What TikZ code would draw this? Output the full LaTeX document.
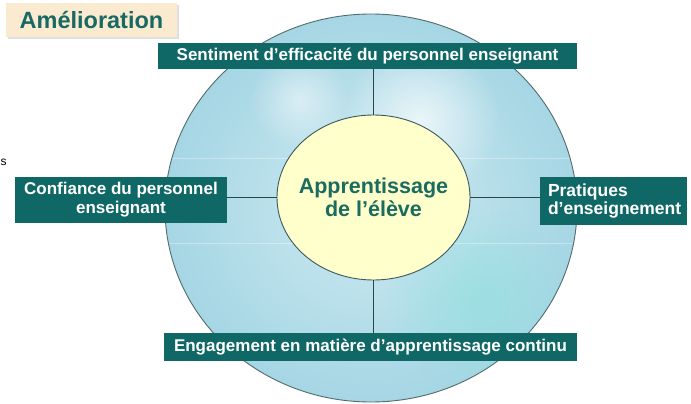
\documentclass[tikz,border=0pt]{standalone}
\usepackage{fontspec}
\setmainfont{Liberation Sans}
\usetikzlibrary{shadows,shapes.geometric,fadings}
\tikzfading[name=radfade, inner color=transparent!0, outer color=transparent!100]
\definecolor{boxteal}{RGB}{16,104,102}
\definecolor{titleteal}{RGB}{24,104,100}
\definecolor{titlebg}{RGB}{250,234,208}
\definecolor{discblue}{RGB}{166,214,228}
\definecolor{disclight}{RGB}{205,234,242}
\definecolor{disccyan}{RGB}{150,224,224}
\definecolor{innerfill}{RGB}{255,255,204}
\definecolor{linecol}{RGB}{40,70,72}
\definecolor{centertext}{RGB}{26,108,96}
\tikzset{
  tealbox/.style={fill=boxteal, text=white, font=\bfseries\fontsize{17}{19}\selectfont, inner sep=1pt},
  connector/.style={draw=linecol, line width=1pt},
}
\begin{document}
\begin{tikzpicture}[x=1pt,y=-1pt]
\useasboundingbox (0,0) rectangle (691,404);
% big disc
\shade[inner color=disclight, outer color=discblue] (371,208) ellipse [x radius=206, y radius=194];
\begin{scope}
\clip (371,208) ellipse [x radius=206, y radius=194];
\fill[disccyan, opacity=0.8, path fading=radfade] (480,300) circle (95);
\fill[white, opacity=0.7, path fading=radfade] (420,120) circle (80);
\fill[white, opacity=0.5, path fading=radfade] (300,100) circle (50);
\draw[white, opacity=0.35, line width=1pt] (160,158) -- (590,158);
\draw[white, opacity=0.35, line width=1pt] (160,243) -- (590,243);
\end{scope}
\draw[draw=linecol!80, line width=0.9pt] (371,208) ellipse [x radius=206, y radius=194];
% inner ellipse and its label
\node[ellipse, draw=linecol!90, line width=0.9pt, fill=innerfill, minimum width=193pt, minimum height=165pt, inner sep=0pt] (inner) at (373.5,197.5) {};
\node[text=centertext, font=\bfseries\fontsize{21.5}{23}\selectfont, align=center, inner sep=0pt] (label) at (373.5,197) {Apprentissage\\de l’élève};
% boxes
\node[tealbox, minimum width=419pt, minimum height=26pt] (top) at (367.5,56) {Sentiment d’efficacité du personnel enseignant};
\node[tealbox, minimum width=212pt, minimum height=46pt, align=center] (left) at (121,200) {Confiance du personnel\\enseignant};
\node[tealbox, minimum width=147pt, minimum height=48pt, align=left, inner xsep=8pt, text width=131pt, font=\bfseries\fontsize{17.5}{18.5}\selectfont] (right) at (613.5,201) {Pratiques\\d’enseignement};
\node[tealbox, minimum width=413pt, minimum height=28pt] (bottom) at (370.5,347) {Engagement en matière d’apprentissage continu};
% connectors
\draw[connector] (inner.north |- top.south) -- (inner.north);
\draw[connector] (inner.south) -- (inner.south |- bottom.north);
\draw[connector] (inner.west -| left.east) -- (inner.west);
\draw[connector] (inner.east) -- (inner.east -| right.west);
% title
\node[fill=titlebg, text=titleteal, font=\bfseries\fontsize{23.5}{26}\selectfont, minimum width=171pt, minimum height=34pt, drop shadow={shadow xshift=2pt, shadow yshift=-2pt, fill=black!25, opacity=0.5}] (title) at (91.5,20) {Amélioration};
% letter at left edge
\node[font=\fontsize{12}{14}\selectfont, anchor=west, inner sep=0pt] (cut) at (0.5,162) {s};
\end{tikzpicture}
\end{document}
